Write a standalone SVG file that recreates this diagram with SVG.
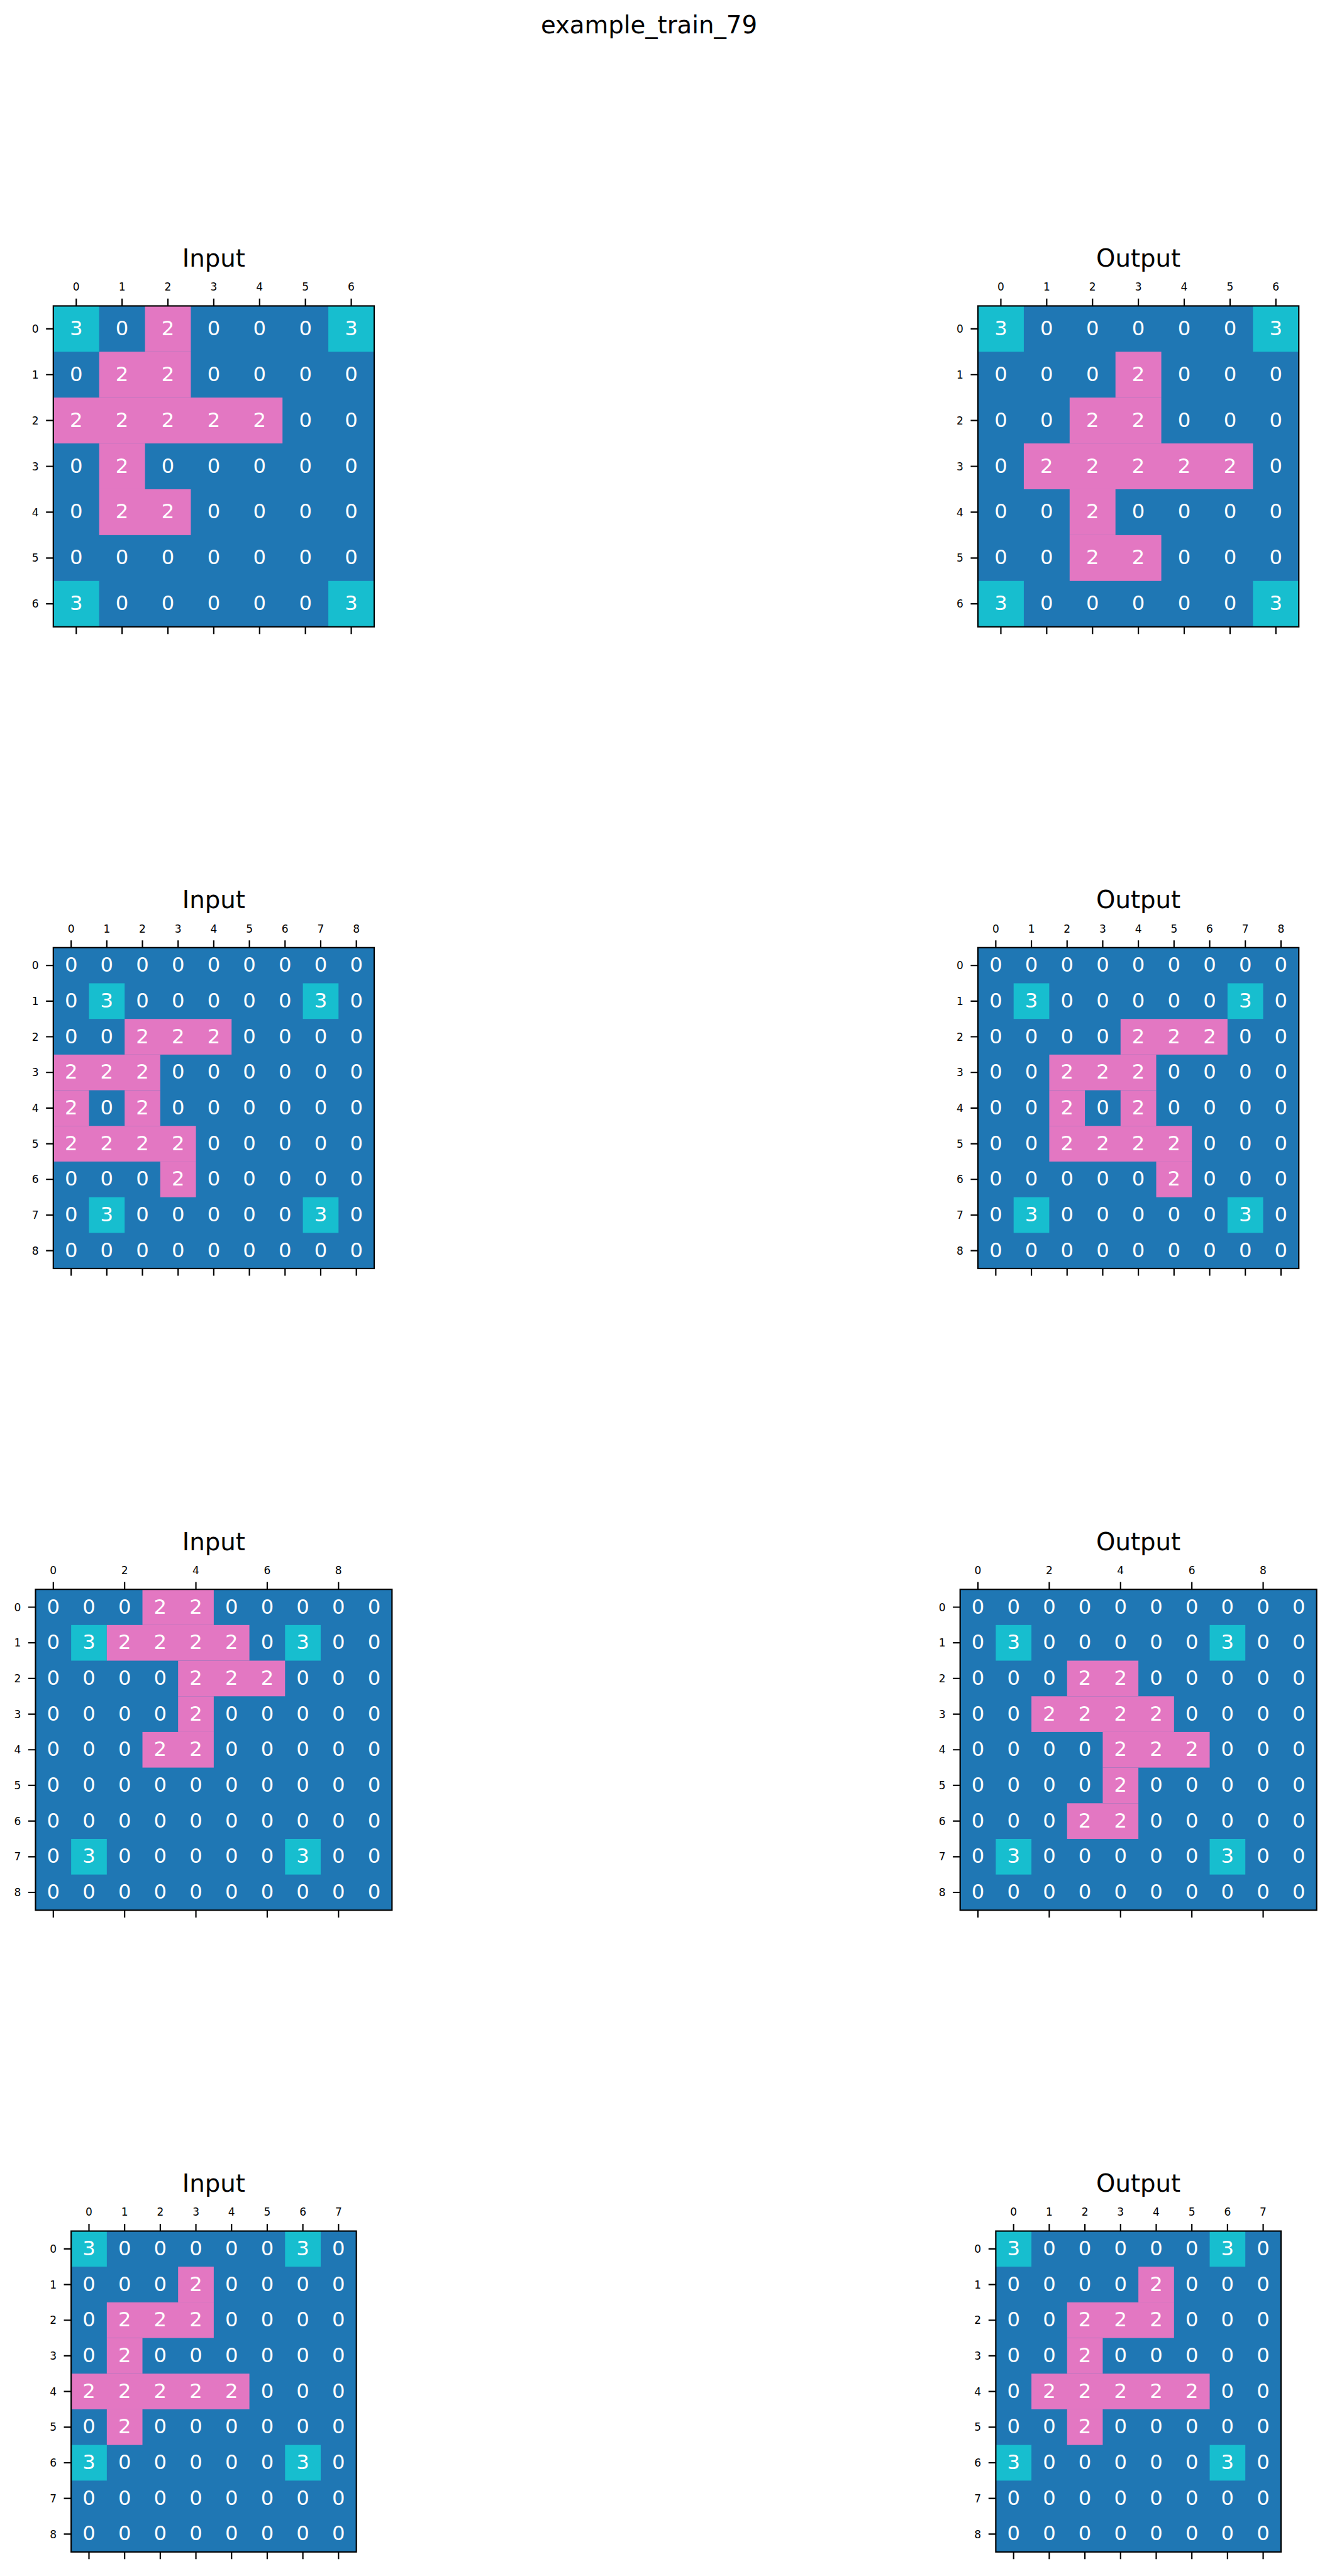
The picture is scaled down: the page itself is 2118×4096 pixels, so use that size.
<svg xmlns="http://www.w3.org/2000/svg" xmlns:xlink="http://www.w3.org/1999/xlink" width="2118" height="4096" viewBox="0 0 2118 4096">
<style>
text{font-family:"DejaVu Sans","Liberation Sans",sans-serif}
.bg{fill:#1f77b4}
.c2{fill:#e377c2}
.c3{fill:#17becf}
.num{fill:#ffffff;font-size:41.7px;text-anchor:middle}
.frame{fill:none;stroke:#000;stroke-width:2.8}
.tick{fill:none;stroke:#000;stroke-width:2.8}
.tl{fill:#000;font-size:22px;text-anchor:middle}
.e{text-anchor:end}
.ttl{fill:#000;font-size:50px;text-anchor:middle}
.sup{fill:#000;font-size:50px;text-anchor:middle}
</style>
<defs>
<g id="ax7">
<rect class="frame" width="660" height="660"/>
<path class="tick" d="M47.14-15V0M141.43-15V0M235.71-15V0M330-15V0M424.29-15V0M518.57-15V0M612.86-15V0M47.14 660v15M141.43 660v15M235.71 660v15M330 660v15M424.29 660v15M518.57 660v15M612.86 660v15M-15 47.14H0M-15 141.43H0M-15 235.71H0M-15 330H0M-15 424.29H0M-15 518.57H0M-15 612.86H0"/>
<text class="tl" x="47.14 141.43 235.71 330 424.29 518.57 612.86" y="-31.3">0123456</text>
<text class="tl e" x="-30 -30 -30 -30 -30 -30 -30" y="55.14 149.43 243.71 338 432.29 526.57 620.86">0123456</text>
</g>
<g id="ax9">
<rect class="frame" width="660" height="660"/>
<path class="tick" d="M36.67-15V0M110-15V0M183.33-15V0M256.67-15V0M330-15V0M403.33-15V0M476.67-15V0M550-15V0M623.33-15V0M36.67 660v15M110 660v15M183.33 660v15M256.67 660v15M330 660v15M403.33 660v15M476.67 660v15M550 660v15M623.33 660v15M-15 36.67H0M-15 110H0M-15 183.33H0M-15 256.67H0M-15 330H0M-15 403.33H0M-15 476.67H0M-15 550H0M-15 623.33H0"/>
<text class="tl" x="36.67 110 183.33 256.67 330 403.33 476.67 550 623.33" y="-31.3">012345678</text>
<text class="tl e" x="-30 -30 -30 -30 -30 -30 -30 -30 -30" y="44.67 118 191.33 264.67 338 411.33 484.67 558 631.33">012345678</text>
</g>
<g id="ax10">
<rect class="frame" width="733.33" height="660"/>
<path class="tick" d="M36.67-15V0M183.33-15V0M330-15V0M476.67-15V0M623.33-15V0M36.67 660v15M183.33 660v15M330 660v15M476.67 660v15M623.33 660v15M-15 36.67H0M-15 110H0M-15 183.33H0M-15 256.67H0M-15 330H0M-15 403.33H0M-15 476.67H0M-15 550H0M-15 623.33H0"/>
<text class="tl" x="36.67 183.33 330 476.67 623.33" y="-31.3">02468</text>
<text class="tl e" x="-30 -30 -30 -30 -30 -30 -30 -30 -30" y="44.67 118 191.33 264.67 338 411.33 484.67 558 631.33">012345678</text>
</g>
<g id="ax8">
<rect class="frame" width="586.67" height="660"/>
<path class="tick" d="M36.67-15V0M110-15V0M183.33-15V0M256.67-15V0M330-15V0M403.33-15V0M476.67-15V0M550-15V0M36.67 660v15M110 660v15M183.33 660v15M256.67 660v15M330 660v15M403.33 660v15M476.67 660v15M550 660v15M-15 36.67H0M-15 110H0M-15 183.33H0M-15 256.67H0M-15 330H0M-15 403.33H0M-15 476.67H0M-15 550H0M-15 623.33H0"/>
<text class="tl" x="36.67 110 183.33 256.67 330 403.33 476.67 550" y="-31.3">01234567</text>
<text class="tl e" x="-30 -30 -30 -30 -30 -30 -30 -30 -30" y="44.67 118 191.33 264.67 338 411.33 484.67 558 631.33">012345678</text>
</g>
</defs>
<rect width="2118" height="4096" fill="#ffffff"/>
<g transform="scale(0.773)">
<text class="sup" x="1335" y="68">example_train_79</text>

<g id="in1" transform="translate(109.7,629.3)">
<text class="ttl" x="330" y="-81">Input</text>
<rect class="bg" width="660" height="660"/>
<rect class="c3" x="0" y="0" width="94.29" height="94.29"/>
<rect class="c2" x="188.57" y="0" width="94.29" height="94.29"/>
<rect class="c3" x="565.71" y="0" width="94.29" height="94.29"/>
<rect class="c2" x="94.29" y="94.29" width="188.57" height="94.29"/>
<rect class="c2" x="0" y="188.57" width="471.43" height="94.29"/>
<rect class="c2" x="94.29" y="282.86" width="94.29" height="94.29"/>
<rect class="c2" x="94.29" y="377.14" width="188.57" height="94.29"/>
<rect class="c3" x="0" y="565.71" width="94.29" height="94.29"/>
<rect class="c3" x="565.71" y="565.71" width="94.29" height="94.29"/>
<text class="num" x="47.14 141.43 235.71 330 424.29 518.57 612.86" y="60.14">3020003</text>
<text class="num" x="47.14 141.43 235.71 330 424.29 518.57 612.86" y="154.43">0220000</text>
<text class="num" x="47.14 141.43 235.71 330 424.29 518.57 612.86" y="248.71">2222200</text>
<text class="num" x="47.14 141.43 235.71 330 424.29 518.57 612.86" y="343">0200000</text>
<text class="num" x="47.14 141.43 235.71 330 424.29 518.57 612.86" y="437.29">0220000</text>
<text class="num" x="47.14 141.43 235.71 330 424.29 518.57 612.86" y="531.57">0000000</text>
<text class="num" x="47.14 141.43 235.71 330 424.29 518.57 612.86" y="625.86">3000003</text>
<use xlink:href="#ax7" href="#ax7"/>
</g>

<g id="out1" transform="translate(2011.7,629.3)">
<text class="ttl" x="330" y="-81">Output</text>
<rect class="bg" width="660" height="660"/>
<rect class="c3" x="0" y="0" width="94.29" height="94.29"/>
<rect class="c3" x="565.71" y="0" width="94.29" height="94.29"/>
<rect class="c2" x="282.86" y="94.29" width="94.29" height="94.29"/>
<rect class="c2" x="188.57" y="188.57" width="188.57" height="94.29"/>
<rect class="c2" x="94.29" y="282.86" width="471.43" height="94.29"/>
<rect class="c2" x="188.57" y="377.14" width="94.29" height="94.29"/>
<rect class="c2" x="188.57" y="471.43" width="188.57" height="94.29"/>
<rect class="c3" x="0" y="565.71" width="94.29" height="94.29"/>
<rect class="c3" x="565.71" y="565.71" width="94.29" height="94.29"/>
<text class="num" x="47.14 141.43 235.71 330 424.29 518.57 612.86" y="60.14">3000003</text>
<text class="num" x="47.14 141.43 235.71 330 424.29 518.57 612.86" y="154.43">0002000</text>
<text class="num" x="47.14 141.43 235.71 330 424.29 518.57 612.86" y="248.71">0022000</text>
<text class="num" x="47.14 141.43 235.71 330 424.29 518.57 612.86" y="343">0222220</text>
<text class="num" x="47.14 141.43 235.71 330 424.29 518.57 612.86" y="437.29">0020000</text>
<text class="num" x="47.14 141.43 235.71 330 424.29 518.57 612.86" y="531.57">0022000</text>
<text class="num" x="47.14 141.43 235.71 330 424.29 518.57 612.86" y="625.86">3000003</text>
<use xlink:href="#ax7" href="#ax7"/>
</g>

<g id="in2" transform="translate(109.7,1949.3)">
<text class="ttl" x="330" y="-81">Input</text>
<rect class="bg" width="660" height="660"/>
<rect class="c3" x="73.33" y="73.33" width="73.33" height="73.33"/>
<rect class="c3" x="513.33" y="73.33" width="73.33" height="73.33"/>
<rect class="c2" x="146.67" y="146.67" width="220" height="73.33"/>
<rect class="c2" x="0" y="220" width="220" height="73.33"/>
<rect class="c2" x="0" y="293.33" width="73.33" height="73.33"/>
<rect class="c2" x="146.67" y="293.33" width="73.33" height="73.33"/>
<rect class="c2" x="0" y="366.67" width="293.33" height="73.33"/>
<rect class="c2" x="220" y="440" width="73.33" height="73.33"/>
<rect class="c3" x="73.33" y="513.33" width="73.33" height="73.33"/>
<rect class="c3" x="513.33" y="513.33" width="73.33" height="73.33"/>
<text class="num" x="36.67 110 183.33 256.67 330 403.33 476.67 550 623.33" y="49.67">000000000</text>
<text class="num" x="36.67 110 183.33 256.67 330 403.33 476.67 550 623.33" y="123">030000030</text>
<text class="num" x="36.67 110 183.33 256.67 330 403.33 476.67 550 623.33" y="196.33">002220000</text>
<text class="num" x="36.67 110 183.33 256.67 330 403.33 476.67 550 623.33" y="269.67">222000000</text>
<text class="num" x="36.67 110 183.33 256.67 330 403.33 476.67 550 623.33" y="343">202000000</text>
<text class="num" x="36.67 110 183.33 256.67 330 403.33 476.67 550 623.33" y="416.33">222200000</text>
<text class="num" x="36.67 110 183.33 256.67 330 403.33 476.67 550 623.33" y="489.67">000200000</text>
<text class="num" x="36.67 110 183.33 256.67 330 403.33 476.67 550 623.33" y="563">030000030</text>
<text class="num" x="36.67 110 183.33 256.67 330 403.33 476.67 550 623.33" y="636.33">000000000</text>
<use xlink:href="#ax9" href="#ax9"/>
</g>

<g id="out2" transform="translate(2011.7,1949.3)">
<text class="ttl" x="330" y="-81">Output</text>
<rect class="bg" width="660" height="660"/>
<rect class="c3" x="73.33" y="73.33" width="73.33" height="73.33"/>
<rect class="c3" x="513.33" y="73.33" width="73.33" height="73.33"/>
<rect class="c2" x="293.33" y="146.67" width="220" height="73.33"/>
<rect class="c2" x="146.67" y="220" width="220" height="73.33"/>
<rect class="c2" x="146.67" y="293.33" width="73.33" height="73.33"/>
<rect class="c2" x="293.33" y="293.33" width="73.33" height="73.33"/>
<rect class="c2" x="146.67" y="366.67" width="293.33" height="73.33"/>
<rect class="c2" x="366.67" y="440" width="73.33" height="73.33"/>
<rect class="c3" x="73.33" y="513.33" width="73.33" height="73.33"/>
<rect class="c3" x="513.33" y="513.33" width="73.33" height="73.33"/>
<text class="num" x="36.67 110 183.33 256.67 330 403.33 476.67 550 623.33" y="49.67">000000000</text>
<text class="num" x="36.67 110 183.33 256.67 330 403.33 476.67 550 623.33" y="123">030000030</text>
<text class="num" x="36.67 110 183.33 256.67 330 403.33 476.67 550 623.33" y="196.33">000022200</text>
<text class="num" x="36.67 110 183.33 256.67 330 403.33 476.67 550 623.33" y="269.67">002220000</text>
<text class="num" x="36.67 110 183.33 256.67 330 403.33 476.67 550 623.33" y="343">002020000</text>
<text class="num" x="36.67 110 183.33 256.67 330 403.33 476.67 550 623.33" y="416.33">002222000</text>
<text class="num" x="36.67 110 183.33 256.67 330 403.33 476.67 550 623.33" y="489.67">000002000</text>
<text class="num" x="36.67 110 183.33 256.67 330 403.33 476.67 550 623.33" y="563">030000030</text>
<text class="num" x="36.67 110 183.33 256.67 330 403.33 476.67 550 623.33" y="636.33">000000000</text>
<use xlink:href="#ax9" href="#ax9"/>
</g>

<g id="in3" transform="translate(73.03,3269.3)">
<text class="ttl" x="366.67" y="-81">Input</text>
<rect class="bg" width="733.33" height="660"/>
<rect class="c2" x="220" y="0" width="146.67" height="73.33"/>
<rect class="c3" x="73.33" y="73.33" width="73.33" height="73.33"/>
<rect class="c2" x="146.67" y="73.33" width="293.33" height="73.33"/>
<rect class="c3" x="513.33" y="73.33" width="73.33" height="73.33"/>
<rect class="c2" x="293.33" y="146.67" width="220" height="73.33"/>
<rect class="c2" x="293.33" y="220" width="73.33" height="73.33"/>
<rect class="c2" x="220" y="293.33" width="146.67" height="73.33"/>
<rect class="c3" x="73.33" y="513.33" width="73.33" height="73.33"/>
<rect class="c3" x="513.33" y="513.33" width="73.33" height="73.33"/>
<text class="num" x="36.67 110 183.33 256.67 330 403.33 476.67 550 623.33 696.67" y="49.67">0002200000</text>
<text class="num" x="36.67 110 183.33 256.67 330 403.33 476.67 550 623.33 696.67" y="123">0322220300</text>
<text class="num" x="36.67 110 183.33 256.67 330 403.33 476.67 550 623.33 696.67" y="196.33">0000222000</text>
<text class="num" x="36.67 110 183.33 256.67 330 403.33 476.67 550 623.33 696.67" y="269.67">0000200000</text>
<text class="num" x="36.67 110 183.33 256.67 330 403.33 476.67 550 623.33 696.67" y="343">0002200000</text>
<text class="num" x="36.67 110 183.33 256.67 330 403.33 476.67 550 623.33 696.67" y="416.33">0000000000</text>
<text class="num" x="36.67 110 183.33 256.67 330 403.33 476.67 550 623.33 696.67" y="489.67">0000000000</text>
<text class="num" x="36.67 110 183.33 256.67 330 403.33 476.67 550 623.33 696.67" y="563">0300000300</text>
<text class="num" x="36.67 110 183.33 256.67 330 403.33 476.67 550 623.33 696.67" y="636.33">0000000000</text>
<use xlink:href="#ax10" href="#ax10"/>
</g>

<g id="out3" transform="translate(1975.03,3269.3)">
<text class="ttl" x="366.67" y="-81">Output</text>
<rect class="bg" width="733.33" height="660"/>
<rect class="c3" x="73.33" y="73.33" width="73.33" height="73.33"/>
<rect class="c3" x="513.33" y="73.33" width="73.33" height="73.33"/>
<rect class="c2" x="220" y="146.67" width="146.67" height="73.33"/>
<rect class="c2" x="146.67" y="220" width="293.33" height="73.33"/>
<rect class="c2" x="293.33" y="293.33" width="220" height="73.33"/>
<rect class="c2" x="293.33" y="366.67" width="73.33" height="73.33"/>
<rect class="c2" x="220" y="440" width="146.67" height="73.33"/>
<rect class="c3" x="73.33" y="513.33" width="73.33" height="73.33"/>
<rect class="c3" x="513.33" y="513.33" width="73.33" height="73.33"/>
<text class="num" x="36.67 110 183.33 256.67 330 403.33 476.67 550 623.33 696.67" y="49.67">0000000000</text>
<text class="num" x="36.67 110 183.33 256.67 330 403.33 476.67 550 623.33 696.67" y="123">0300000300</text>
<text class="num" x="36.67 110 183.33 256.67 330 403.33 476.67 550 623.33 696.67" y="196.33">0002200000</text>
<text class="num" x="36.67 110 183.33 256.67 330 403.33 476.67 550 623.33 696.67" y="269.67">0022220000</text>
<text class="num" x="36.67 110 183.33 256.67 330 403.33 476.67 550 623.33 696.67" y="343">0000222000</text>
<text class="num" x="36.67 110 183.33 256.67 330 403.33 476.67 550 623.33 696.67" y="416.33">0000200000</text>
<text class="num" x="36.67 110 183.33 256.67 330 403.33 476.67 550 623.33 696.67" y="489.67">0002200000</text>
<text class="num" x="36.67 110 183.33 256.67 330 403.33 476.67 550 623.33 696.67" y="563">0300000300</text>
<text class="num" x="36.67 110 183.33 256.67 330 403.33 476.67 550 623.33 696.67" y="636.33">0000000000</text>
<use xlink:href="#ax10" href="#ax10"/>
</g>

<g id="in4" transform="translate(146.37,4589.3)">
<text class="ttl" x="293.33" y="-81">Input</text>
<rect class="bg" width="586.67" height="660"/>
<rect class="c3" x="0" y="0" width="73.33" height="73.33"/>
<rect class="c3" x="440" y="0" width="73.33" height="73.33"/>
<rect class="c2" x="220" y="73.33" width="73.33" height="73.33"/>
<rect class="c2" x="73.33" y="146.67" width="220" height="73.33"/>
<rect class="c2" x="73.33" y="220" width="73.33" height="73.33"/>
<rect class="c2" x="0" y="293.33" width="366.67" height="73.33"/>
<rect class="c2" x="73.33" y="366.67" width="73.33" height="73.33"/>
<rect class="c3" x="0" y="440" width="73.33" height="73.33"/>
<rect class="c3" x="440" y="440" width="73.33" height="73.33"/>
<text class="num" x="36.67 110 183.33 256.67 330 403.33 476.67 550" y="49.67">30000030</text>
<text class="num" x="36.67 110 183.33 256.67 330 403.33 476.67 550" y="123">00020000</text>
<text class="num" x="36.67 110 183.33 256.67 330 403.33 476.67 550" y="196.33">02220000</text>
<text class="num" x="36.67 110 183.33 256.67 330 403.33 476.67 550" y="269.67">02000000</text>
<text class="num" x="36.67 110 183.33 256.67 330 403.33 476.67 550" y="343">22222000</text>
<text class="num" x="36.67 110 183.33 256.67 330 403.33 476.67 550" y="416.33">02000000</text>
<text class="num" x="36.67 110 183.33 256.67 330 403.33 476.67 550" y="489.67">30000030</text>
<text class="num" x="36.67 110 183.33 256.67 330 403.33 476.67 550" y="563">00000000</text>
<text class="num" x="36.67 110 183.33 256.67 330 403.33 476.67 550" y="636.33">00000000</text>
<use xlink:href="#ax8" href="#ax8"/>
</g>

<g id="out4" transform="translate(2048.37,4589.3)">
<text class="ttl" x="293.33" y="-81">Output</text>
<rect class="bg" width="586.67" height="660"/>
<rect class="c3" x="0" y="0" width="73.33" height="73.33"/>
<rect class="c3" x="440" y="0" width="73.33" height="73.33"/>
<rect class="c2" x="293.33" y="73.33" width="73.33" height="73.33"/>
<rect class="c2" x="146.67" y="146.67" width="220" height="73.33"/>
<rect class="c2" x="146.67" y="220" width="73.33" height="73.33"/>
<rect class="c2" x="73.33" y="293.33" width="366.67" height="73.33"/>
<rect class="c2" x="146.67" y="366.67" width="73.33" height="73.33"/>
<rect class="c3" x="0" y="440" width="73.33" height="73.33"/>
<rect class="c3" x="440" y="440" width="73.33" height="73.33"/>
<text class="num" x="36.67 110 183.33 256.67 330 403.33 476.67 550" y="49.67">30000030</text>
<text class="num" x="36.67 110 183.33 256.67 330 403.33 476.67 550" y="123">00002000</text>
<text class="num" x="36.67 110 183.33 256.67 330 403.33 476.67 550" y="196.33">00222000</text>
<text class="num" x="36.67 110 183.33 256.67 330 403.33 476.67 550" y="269.67">00200000</text>
<text class="num" x="36.67 110 183.33 256.67 330 403.33 476.67 550" y="343">02222200</text>
<text class="num" x="36.67 110 183.33 256.67 330 403.33 476.67 550" y="416.33">00200000</text>
<text class="num" x="36.67 110 183.33 256.67 330 403.33 476.67 550" y="489.67">30000030</text>
<text class="num" x="36.67 110 183.33 256.67 330 403.33 476.67 550" y="563">00000000</text>
<text class="num" x="36.67 110 183.33 256.67 330 403.33 476.67 550" y="636.33">00000000</text>
<use xlink:href="#ax8" href="#ax8"/>
</g>
</g>
</svg>
